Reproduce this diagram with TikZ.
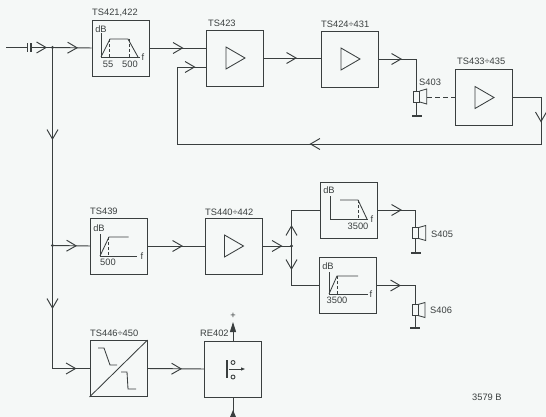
\documentclass[tikz,border=0pt]{standalone}
\usepackage{fontspec}
\setmainfont{Liberation Sans}
\usetikzlibrary{arrows.meta,decorations.markings}
\definecolor{paper}{HTML}{F5F8F7}
\definecolor{ink}{HTML}{3A3F3F}
\tikzset{
  wire/.style={ink, line width=0.95pt},
  thinwire/.style={ink, line width=0.85pt},
  blockbox/.style={draw=ink, line width=0.95pt, minimum width=57pt, minimum height=56pt, inner sep=0pt},
  junct/.style={circle, fill=ink, inner sep=0pt, minimum size=3.4pt},
  gndbar/.style={rectangle, fill=ink, inner sep=0pt, minimum width=10pt, minimum height=1.8pt},
  lab/.style={anchor=west, inner sep=0pt, text=ink, font=\fontsize{9.3}{10}\selectfont},
  small/.style={inner sep=0pt, text=ink, font=\fontsize{9.3}{10}\selectfont},
  chev/.style={postaction={decorate, decoration={markings,
    mark=at position #1 with {\arrow{Straight Barb[length=9.5pt,width=11pt]}}}}},
  speaker/.pic={
    \draw[thinwire, fill=paper] (-3,-5.5) rectangle (3,5.5);
    \draw[thinwire] (3,-5.5) -- (10,-7.5) -- (10,7.5) -- (3,5.5);
  }
}
\begin{document}
\begin{tikzpicture}[x=1pt, y=-1pt]
\fill[paper] (0,0) rectangle (546,417);
\useasboundingbox (0,0) rectangle (546,417);

%% ---- blocks ----
\node[blockbox] (ts421) at (120.5,48)  {};
\node[blockbox] (ts423) at (235,58)    {};
\node[blockbox] (ts424) at (350,59)    {};
\node[blockbox] (ts433) at (484,97.5)  {};
\node[blockbox] (ts439) at (119,246)   {};
\node[blockbox] (ts440) at (233.5,246) {};
\node[blockbox] (ts446) at (118.5,368.5) {};
\node[blockbox] (re402) at (233,369)   {};
\node[blockbox] (lowp)  at (349,210)   {};
\node[blockbox] (highp) at (348,285.5) {};

%% ---- labels ----
\node[lab] (l421) at (92,12.5)  {TS421,422};
\node[lab] (l423) at (208,23)   {TS423};
\node[lab] (l424) at (321,24)   {TS424÷431};
\node[lab] (l433) at (457,61)   {TS433÷435};
\node[lab] (l403) at (419,82)   {S403};
\node[lab] (l439) at (90,211)   {TS439};
\node[lab] (l440) at (205,212)  {TS440÷442};
\node[lab] (l446) at (90,333)   {TS446÷450};
\node[lab] (l402) at (200,333)  {RE402};
\node[lab] (l405) at (431,234)  {S405};
\node[lab] (l406) at (430,310)  {S406};
\node[lab] (lref) at (472,397)  {3579 B};
\node[small] (lplus) at (233,316) {+};

%% ---- amplifier triangles ----
\foreach \n in {ts423,ts424,ts433,ts440}
  \draw[thinwire] ([shift={(-9,-11)}]\n.center) -- ([shift={(10,0)}]\n.center)
    -- ([shift={(-9,11)}]\n.center) -- cycle;

%% ---- input and top chain ----
\coordinate (in) at (6,47.5);
\coordinate (capa) at (27.5,47.5);
\coordinate (capb) at (31,47.5);
\node[junct] (j1) at (52.5,47.5) {};
\node[junct] (j2) at (52.5,245.5) {};
\node[junct] (j3) at (291.5,246) {};
\coordinate (jb) at (52.5,368.5);
\draw[wire] (in) -- (capa);
\draw[ink, line width=1.6pt] (27.5,43.5) -- (27.5,52);
\draw[ink, line width=1.6pt] (31,43.5) -- (31,52);
\draw[wire, chev=16pt] (capb) -- (j1.center);
\draw[wire, chev=25.5pt] (j1.center) -- (ts421.west);
\draw[wire, chev=34pt] (ts421.east) -- (ts421.east -| ts423.west);
\draw[wire, chev=33pt] (ts423.east) -- (ts423.east -| ts424.west);

%% ---- speaker S403 and feedback ----
\coordinate (s403) at (416.7,96.5);
\node[gndbar] (g403) at (416.7,116) {};
\draw[wire, chev=23pt] (ts424.east) -| (s403);
\draw[wire] (s403) -- (g403);
\pic at (s403) {speaker};
\draw[thinwire, dash pattern=on 5pt off 3pt] (427,97.5) -- (ts433.west);
\coordinate (fba) at (541,97.5);
\coordinate (fbb) at (541,144);
\coordinate (fbc) at (177.5,144);
\coordinate (fbd) at (177.5,67);
\draw[wire, chev=53pt, chev=306pt, chev=533pt]
  (ts433.east) -- (fba) -- (fbb) -- (fbc) -- (fbd) -- (fbd -| ts423.west);

%% ---- left bus ----
\draw[wire, chev=92.5pt, chev=261.5pt, chev=345pt] (j1.center) -- (j2.center) -- (jb) -- (ts446.west);
\draw[wire, chev=24.5pt] (j2.center) -- (ts439.west);
\draw[wire, chev=35pt] (ts439.east) -- (ts440.west);
\draw[wire, chev=34.5pt] (ts446.east) -- (re402.west);

%% ---- lower branches ----
\draw[wire, chev=20pt] (ts440.east) -- (j3.center);
\draw[wire, chev=21pt] (j3.center) -- (j3.center |- lowp.west) -- (lowp.west);
\draw[wire, chev=24pt] (j3.center) -- (j3.center |- highp.west) -- (highp.west);
\coordinate (s405) at (415.7,233);
\coordinate (s406) at (415,310);
\node[gndbar] (g405) at (415.7,253) {};
\node[gndbar] (g406) at (415,328) {};
\draw[wire, chev=24pt] (lowp.east) -| (s405);
\draw[wire, chev=24pt] (highp.east) -| (s406);
\draw[wire] (s405) -- (g405);
\draw[wire] (s406) -- (g406);
\pic at (s405) {speaker};
\pic at (s406) {speaker};

%% ---- relay ----
\coordinate (retop) at (233,322);
\coordinate (rebot) at (233,417);
\draw[wire, -{Triangle[length=10pt,width=6pt]}] (re402.north) -- (retop);
\draw[wire] (re402.south) -- (rebot);
\fill[ink] (230,417) -- (233,410) -- (236,417) -- cycle;
\draw[ink, line width=2.6pt] (227,360) -- (227,378);
\draw[thinwire] (233,362.5) circle (2);
\draw[thinwire] (233,377) circle (2);
\draw[thinwire, -{Triangle[length=4pt,width=3pt]}] (229,369) -- (245,369);

%% ---- band pass TS421,422 ----
\draw[thinwire] (101,33) -- (101,57) -- (140,57);
\draw[thinwire] (101,57) -- (110,39) -- (128,39) -- (138,57);
\draw[thinwire, densely dashed] (109,39) -- (109,57);
\draw[thinwire, densely dashed] (129,39) -- (129,57);
\node[small] (db1) at (101,29) {dB};
\node[small] (f1)  at (143,57) {f};
\node[small] (n55) at (108,64.5) {55};
\node[small] (n500) at (130,64.5) {500};

%% ---- high pass TS439 ----
\draw[thinwire] (100,234) -- (100,256) -- (137,256);
\draw[thinwire] (100,256) -- (109,237) -- (128.5,237);
\draw[thinwire, densely dashed] (108.5,237) -- (108.5,256);
\node[small] (db2) at (99,228) {dB};
\node[small] (f2)  at (142,256) {f};
\node[small] (n501) at (108,262.5) {500};

%% ---- low pass 3500 ----
\draw[thinwire] (330,196) -- (330,219) -- (368,219);
\draw[thinwire] (340,200) -- (358,200) -- (367,219);
\draw[thinwire, densely dashed] (358,200) -- (358,219);
\node[small] (db3) at (329,190) {dB};
\node[small] (f3)  at (372,219) {f};
\node[small] (n3500) at (358,226) {3500};

%% ---- high pass 3500 ----
\draw[thinwire] (329,272) -- (329,294) -- (368,294);
\draw[thinwire] (329,294) -- (337,276) -- (358,276);
\draw[thinwire, densely dashed] (337,276) -- (337,294);
\node[small] (db4) at (328,266) {dB};
\node[small] (f4)  at (371,294) {f};
\node[small] (n3501) at (337,300.5) {3500};

%% ---- converter TS446 ----
\draw[thinwire] (ts446.south west) -- (ts446.north east);
\draw[thinwire] (98,348) -- (104,348) -- (110,365) -- (117,365);
\draw[thinwire] (121,372) -- (127,372) -- (128,389) -- (136,389);
\end{tikzpicture}
\end{document}
